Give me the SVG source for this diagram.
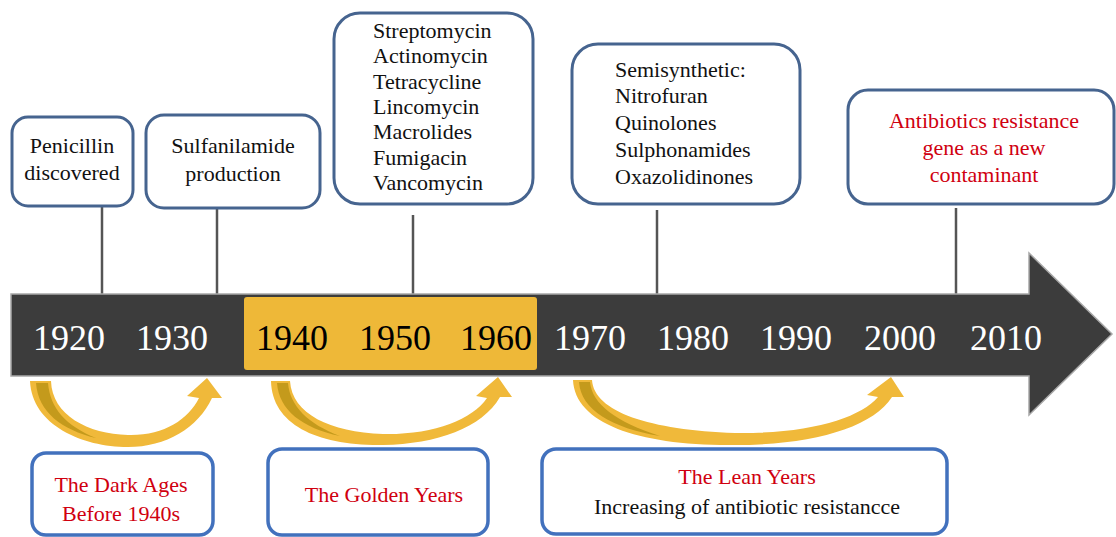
<svg xmlns="http://www.w3.org/2000/svg" width="1116" height="537" viewBox="0 0 1116 537">
<style>
.t{font-family:"Liberation Serif","Times New Roman",serif;font-size:22px;fill:#111}
.r{fill:#d0000f}
.yr{font-family:"Liberation Serif","Times New Roman",serif;font-size:36px;fill:#fff;text-anchor:middle}
.yb{fill:#000}
.c{text-anchor:middle}
.tb{fill:#fff;stroke:#46648f;stroke-width:3}
.bb{fill:#fff;stroke:#4271bd;stroke-width:3.5}
.ln{stroke:#555;stroke-width:2.5}
.ga{fill:#f0b93a}
.gd{fill:#c49a1c}
</style>
<rect width="1116" height="537" fill="#fff"/>
<g id="connectors">
<line class="ln" x1="102" y1="206" x2="102" y2="294"/>
<line class="ln" x1="217" y1="208" x2="217" y2="294"/>
<line class="ln" x1="413" y1="215" x2="413" y2="294"/>
<line class="ln" x1="657" y1="210" x2="657" y2="294"/>
<line class="ln" x1="956" y1="208" x2="956" y2="294"/>
</g>
<g id="timeline">
<path d="M11 294 L1029 294 L1029 253 L1112 334 L1029 415 L1029 376 L11 376 Z" fill="#3c3c3c" stroke="#a8a8a8" stroke-width="1.5"/>
<rect x="244" y="297" width="293" height="73" rx="3" fill="#eeb838"/>
<text class="yr" x="69" y="350">1920</text>
<text class="yr" x="172" y="350">1930</text>
<text class="yr yb" x="292" y="350">1940</text>
<text class="yr yb" x="395" y="350">1950</text>
<text class="yr yb" x="496" y="350">1960</text>
<text class="yr" x="590" y="350">1970</text>
<text class="yr" x="693" y="350">1980</text>
<text class="yr" x="796" y="350">1990</text>
<text class="yr" x="900" y="350">2000</text>
<text class="yr" x="1006" y="350">2010</text>
</g>
<g id="node-penicillin">
<rect class="tb" x="12" y="117" width="121" height="89" rx="16"/>
<text class="t c" x="72" y="153">Penicillin</text>
<text class="t c" x="72" y="180">discovered</text>
</g>
<g id="node-sulfanilamide">
<rect class="tb" x="146" y="115" width="174" height="93" rx="18"/>
<text class="t c" x="233" y="153">Sulfanilamide</text>
<text class="t c" x="233" y="181">production</text>
</g>
<g id="node-golden-drugs">
<rect class="tb" x="334" y="13" width="199" height="191" rx="26"/>
<text class="t" x="373" y="38">Streptomycin</text>
<text class="t" x="373" y="63">Actinomycin</text>
<text class="t" x="373" y="89">Tetracycline</text>
<text class="t" x="373" y="114">Lincomycin</text>
<text class="t" x="373" y="139">Macrolides</text>
<text class="t" x="373" y="165">Fumigacin</text>
<text class="t" x="373" y="190">Vancomycin</text>
</g>
<g id="node-semisynthetic">
<rect class="tb" x="572" y="44" width="228" height="160" rx="26"/>
<text class="t" x="615" y="77">Semisynthetic:</text>
<text class="t" x="615" y="103">Nitrofuran</text>
<text class="t" x="615" y="130">Quinolones</text>
<text class="t" x="615" y="157">Sulphonamides</text>
<text class="t" x="615" y="184">Oxazolidinones</text>
</g>
<g id="node-resistance-gene">
<rect class="tb" x="848" y="90" width="266" height="114" rx="20"/>
<text class="t c r" x="984" y="128">Antibiotics resistance</text>
<text class="t c r" x="984" y="155">gene as a new</text>
<text class="t c r" x="984" y="182">contaminant</text>
</g>
<g id="curved-arrows">
<path class="ga" d="M30 381 L51 381 C52 415 88 434 128 435 C163 436 188 420 199 398 L187 396 L207 378 L222 398 L212 398 C198 428 166 447 128 447 C82 447 32 425 30 381 Z"/>
<path class="gd" d="M36 383 L48 383 C50 408 66 426 96 438 C62 430 38 412 36 383 Z"/>
<path class="ga" d="M271 381 L290 381 C292 414 330 432 383 434 C433 435 472 420 487 398 L476 396 L498 377 L512 397 L500 397 C482 428 437 444 383 445 C318 446 272 425 271 381 Z"/>
<path class="gd" d="M277 383 L288 383 C290 406 308 424 340 436 C302 428 279 410 277 383 Z"/>
<path class="ga" d="M573 380 L592 380 C594 412 650 430 735 433 C810 434 860 418 878 397 L867 395 L891 377 L904 397 L892 397 C872 428 812 445 735 445 C640 446 575 424 573 380 Z"/>
<path class="gd" d="M579 382 L590 382 C592 404 616 422 660 436 C612 428 581 410 579 382 Z"/>
</g>
<g id="node-dark-ages">
<rect class="bb" x="32" y="453" width="181" height="82" rx="14"/>
<text class="t c r" x="121" y="492">The Dark Ages</text>
<text class="t c r" x="121" y="521">Before 1940s</text>
</g>
<g id="node-golden-years">
<rect class="bb" x="268" y="449" width="220" height="86" rx="14"/>
<text class="t c r" x="384" y="502">The Golden Years</text>
</g>
<g id="node-lean-years">
<rect class="bb" x="542" y="449" width="405" height="85" rx="14"/>
<text class="t c r" x="747" y="484">The Lean Years</text>
<text class="t c" x="747" y="514">Increasing of antibiotic resistancce</text>
</g>
</svg>
